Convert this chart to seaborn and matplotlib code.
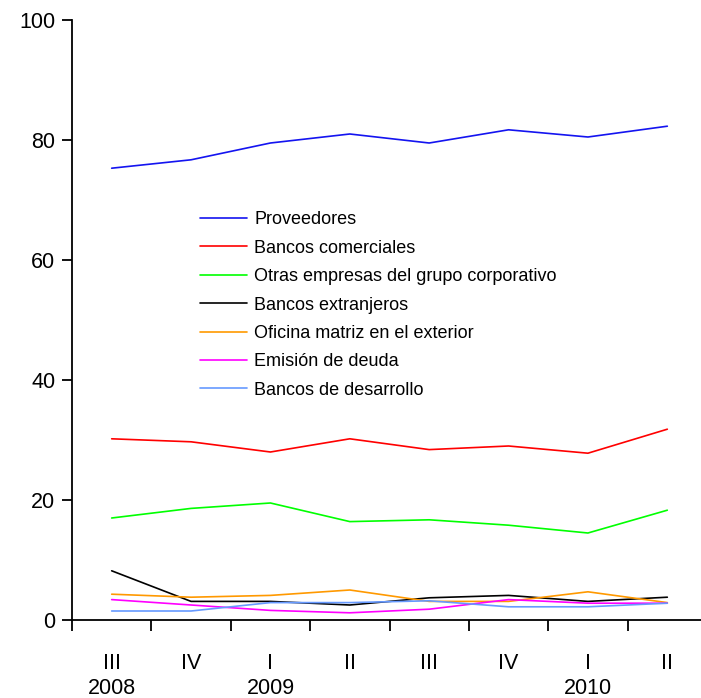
import matplotlib
matplotlib.use('Agg')
from matplotlib import pyplot as plt
import pandas as pd
import seaborn as sns

# trimestres
quarters = ['III', 'IV', 'I', 'II', 'III', 'IV', 'I', 'II']
years = ['2008', '', '2009', '', '', '', '2010', '']

series_names = ['Proveedores', 'Bancos comerciales', 'Otras empresas del grupo corporativo',
                'Bancos extranjeros', 'Oficina matriz en el exterior', 'Emisión de deuda',
                'Bancos de desarrollo']
proveedores = [75.3, 76.7, 79.5, 81.0, 79.5, 81.7, 80.5, 82.3]
bancos_comerciales = [30.2, 29.7, 28.0, 30.2, 28.4, 29.0, 27.8, 31.8]
otras_empresas = [17.0, 18.6, 19.5, 16.4, 16.7, 15.8, 14.5, 18.3]
bancos_extranjeros = [8.2, 3.1, 3.1, 2.5, 3.7, 4.1, 3.1, 3.8]
oficina_matriz = [4.3, 3.8, 4.1, 5.0, 3.1, 3.1, 4.7, 2.9]
emision_deuda = [3.4, 2.5, 1.6, 1.2, 1.8, 3.4, 2.8, 2.8]
bancos_desarrollo = [1.5, 1.5, 2.9, 2.9, 3.2, 2.2, 2.2, 2.8]

colors = ['#1414F0', '#FF0000', '#00FF00', '#000000', '#FF9900', '#FF00FF', '#6699FF']

all_values = [proveedores, bancos_comerciales, otras_empresas, bancos_extranjeros,
              oficina_matriz, emision_deuda, bancos_desarrollo]

rows = []
for name, vals in zip(series_names, all_values):
    for i, v in enumerate(vals):
        rows.append({'pos': i, 'valor': v, 'serie': name})
df = pd.DataFrame(rows)

sns.set_style('white')
plt.rcParams['font.family'] = ['Liberation Sans', 'DejaVu Sans']
plt.rcParams['text.color'] = 'black'
plt.rcParams['xtick.color'] = 'black'
plt.rcParams['ytick.color'] = 'black'

fig = plt.figure(figsize=(7.01, 6.98), dpi=100)
ax = fig.add_axes([72 / 701, 78 / 698, 635 / 701, 600 / 698])

sns.lineplot(data=df, x='pos', y='valor', hue='serie', hue_order=series_names,
             palette=colors, linewidth=1.2, ax=ax)

ax.set_xlim(-0.5, 7.5)
ax.set_ylim(0, 100)
ax.set_yticks([0, 20, 40, 60, 80, 100])
ax.tick_params(axis='y', labelsize=15.5, length=7, width=1.3, direction='out', left=True, pad=5)

# ticks mayores entre trimestres, etiquetas en los menores
ax.set_xticks([i - 0.5 for i in range(9)])
ax.set_xticklabels([''] * 9)
ax.tick_params(axis='x', which='major', length=8, width=1.3, direction='out', bottom=True)
ax.set_xticks(range(8), minor=True)
labels = [q + '\n' + y for q, y in zip(quarters, years)]
ax.set_xticklabels(labels, minor=True, fontsize=15.5, linespacing=1.28, va='top')
ax.tick_params(axis='x', which='minor', length=0, pad=23.5)

ax.set_xlabel('')
ax.set_ylabel('')
for s in ['top', 'right']:
    ax.spines[s].set_visible(False)
for s in ['left', 'bottom']:
    ax.spines[s].set_color('black')
    ax.spines[s].set_linewidth(1.3)

ax.legend(loc='upper left', bbox_to_anchor=(0.19, 0.693), frameon=False, fontsize=13,
          handlelength=2.6, labelspacing=0.63, handletextpad=0.4, borderaxespad=0,
          labelcolor='black')

fig.savefig('out.png', dpi=100)
